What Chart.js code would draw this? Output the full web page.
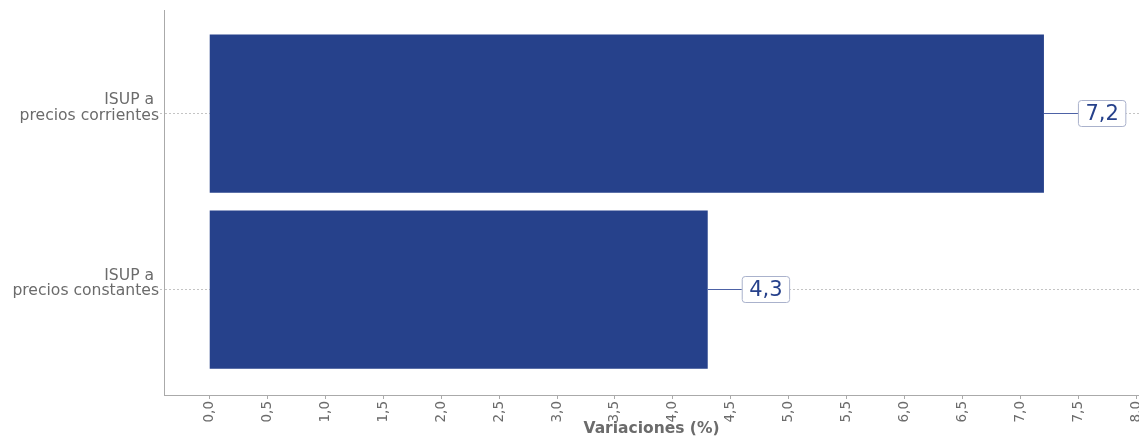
<!DOCTYPE html>
<html>
<head>
<meta charset="utf-8">
<script src="https://cdn.jsdelivr.net/npm/chart.js@4/dist/chart.umd.min.js"></script>
<style>
  html, body { margin: 0; padding: 0; background: #fff; overflow: hidden; }
  #wrap { width: 1139px; height: 437px; position: relative; }
</style>
</head>
<body>
<div id="wrap"><canvas id="isup-chart"></canvas></div>
<script>
const categories = [['ISUP a ', 'precios corrientes'], ['ISUP a ', 'precios constantes']];
const variaciones = [7.2, 4.3];
const barColor = '#26418b';

const fmt = (v) => v.toFixed(1).replace('.', ',');

// value boxes with a short leader line, drawn after the bars
const valueBoxes = {
  id: 'valueBoxes',
  afterDatasetsDraw(chart) {
    const ctx = chart.ctx;
    const meta = chart.getDatasetMeta(0);
    ctx.save();
    ctx.font = '21px "DejaVu Sans"';
    meta.data.forEach((bar, i) => {
      const txt = fmt(variaciones[i]);
      const w = ctx.measureText(txt).width + 14;
      const h = 26;
      const x0 = bar.x + 34;
      const ly = Math.round(bar.y - 0.5) + 0.5;
      ctx.strokeStyle = '#4d62a6';
      ctx.lineWidth = 1;
      ctx.beginPath();
      ctx.moveTo(bar.x, ly);
      ctx.lineTo(x0, ly);
      ctx.stroke();
      ctx.fillStyle = '#fff';
      ctx.strokeStyle = '#aab2cc';
      ctx.beginPath();
      ctx.roundRect(x0 + 0.5, ly - h / 2, w, h, 3);
      ctx.fill();
      ctx.stroke();
      ctx.fillStyle = barColor;
      ctx.textAlign = 'center';
      ctx.textBaseline = 'middle';
      ctx.fillText(txt, x0 + w / 2 + 0.5, ly + 1);
    });
    ctx.restore();
  }
};

const ctx = document.getElementById('isup-chart').getContext('2d');
const isupChart = new Chart(ctx, {
  type: 'bar',
  data: {
    datasets: [{
      data: variaciones.map((v, i) => ({ x: v, y: i })),
      backgroundColor: barColor,
      borderWidth: 0,
      categoryPercentage: 1,
      barPercentage: 0.9
    }]
  },
  options: {
    indexAxis: 'y',
    responsive: true,
    maintainAspectRatio: false,
    animation: false,
    layout: { padding: { top: 10, left: 0, right: 0, bottom: 0 } },
    scales: {
      x: {
        type: 'linear',
        min: -0.39,
        max: 8.02,
        afterFit(scale) {
          scale.height = 42;
          scale.paddingLeft = 0;
          scale.paddingRight = 0;
        },
        ticks: {
          stepSize: 0.5,
          includeBounds: false,
          minRotation: 90,
          maxRotation: 90,
          padding: 2,
          color: '#6b6b6b',
          font: { family: 'DejaVu Sans', size: 13.5 },
          callback: (v) => fmt(v)
        },
        grid: {
          drawOnChartArea: false,
          drawTicks: true,
          tickLength: 4,
          color: '#aaaaaa'
        },
        border: { display: true, color: '#aaaaaa' },
        title: {
          display: true,
          text: 'Variaciones (%)',
          color: '#6b6b6b',
          font: { family: 'DejaVu Sans', size: 15.5, weight: 'bold', lineHeight: 1 },
          padding: { top: 0, bottom: 0 }
        }
      },
      y: {
        type: 'linear',
        offset: false,
        reverse: true,
        min: -0.59,
        max: 1.6,
        afterFit(scale) {
          scale.width = 164;
          scale.paddingTop = 0;
          scale.paddingBottom = 0;
        },
        afterBuildTicks(scale) {
          scale.ticks = categories.map((c, i) => ({ value: i }));
        },
        ticks: {
          padding: 1,
          labelOffset: -6,
          color: '#6b6b6b',
          font: { family: 'DejaVu Sans', size: 15.6, lineHeight: 1.0 },
          callback: (v) => categories[v]
        },
        grid: {
          offset: false,
          color: '#c4c4c4',
          tickLength: 4,
          tickColor: '#c4c4c4',
          tickBorderDash: [2, 2]
        },
        border: { display: true, color: '#aaaaaa', dash: [2, 2] }
      }
    },
    plugins: {
      legend: { display: false },
      tooltip: { enabled: false }
    }
  },
  plugins: [valueBoxes]
});
</script>
</body>
</html>
